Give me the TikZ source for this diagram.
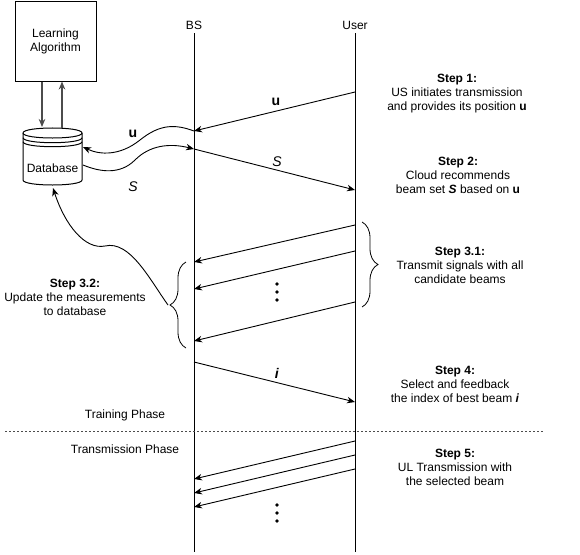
\documentclass[tikz,border=0pt]{standalone}
\usepackage{fontspec}
\setmainfont{Liberation Sans}
\usetikzlibrary{arrows.meta,decorations.pathreplacing}
\begin{document}
\begin{tikzpicture}[x=1pt,y=-1pt,
  txt/.style={font=\fontsize{12}{14}\selectfont, align=center, inner sep=0pt},
  lbl/.style={font=\fontsize{14}{16}\selectfont, inner sep=0pt},
  msg/.style={line width=0.9pt, -{Stealth[length=8pt,width=6.5pt,inset=2.5pt]}},
  life/.style={line width=1pt},
  brc/.style={line width=0.8pt, decorate, decoration={brace, amplitude=16pt}},
  dbline/.style={line width=1pt}
]
\useasboundingbox (0,0) rectangle (580,554);

% lifelines
\node[txt] (bs) at (194,25) {BS};
\node[txt] (us) at (355,25) {User};
\coordinate (bsT) at (194,33); \coordinate (bsB) at (194,552);
\coordinate (usT) at (355,33); \coordinate (usB) at (355,552);
\draw[life] (bsT) -- (bsB);
\draw[life] (usT) -- (usB);

% learning algorithm
\node[draw, line width=1pt, minimum width=81pt, minimum height=80pt, txt] (la) at (55.5,41) {Learning\\Algorithm};

% database
\draw[dbline, fill=white] (23,133) -- (23,180) .. controls (23,186.67) and (82,186.67) .. (82,180)
  -- (82,133) .. controls (82,126.33) and (23,126.33) .. (23,133) -- cycle;
\draw[dbline] (23,133) .. controls (23,139.67) and (82,139.67) .. (82,133);
\draw[dbline] (23,137.7) .. controls (23,144.37) and (82,144.37) .. (82,137.7);
\draw[dbline] (23,141.7) .. controls (23,148.37) and (82,148.37) .. (82,141.7);
\node[txt] (db) at (52.5,168) {Database};
\coordinate (dbIn) at (83,147);
\coordinate (dbOut) at (83,165);
\coordinate (dbBot) at (53,188);
\coordinate (dbTopL) at (42,127);
\coordinate (dbTopR) at (62,128);

\draw[msg, black!70, line width=1.2pt] ([xshift=-13.5pt]la.south) -- (dbTopL);
\draw[msg, black!70, line width=1.2pt] (dbTopR) -- ([xshift=6.5pt]la.south);

% step 1
\coordinate (m1s) at (355,92); \coordinate (m1e) at (194,131);
\draw[msg] (m1s) -- (m1e);
\node[lbl] (lu) at (276,102) {\textbf{u}};
\draw[msg] (m1e) .. controls (175,124) and (160,124) .. (140,140) .. controls (120,156) and (100,155) .. (dbIn);
\node[lbl] (lu2) at (133,134) {\textbf{u}};

% step 2
\coordinate (m2s) at (194,149); \coordinate (m2e) at (355,190);
\draw[msg] (dbOut) .. controls (100,172) and (120,175) .. (135,160) .. controls (150,145) and (170,143) .. (m2s);
\node[lbl] (ls2) at (133,187) {\textit{S}};
\draw[msg] (m2s) -- (m2e);
\node[lbl] (ls) at (277,162) {\textit{S}};

% step 3.1
\coordinate (a1s) at (355,225); \coordinate (a1e) at (194,262);
\coordinate (a2s) at (355,251); \coordinate (a2e) at (194,289);
\coordinate (a3s) at (355,302); \coordinate (a3e) at (194,341);
\draw[msg] (a1s) -- (a1e);
\draw[msg] (a2s) -- (a2e);
\draw[msg] (a3s) -- (a3e);
\fill (277,284) circle (1.8) (277,292) circle (1.8) (277,300) circle (1.8);

\coordinate (b1t) at (362,222); \coordinate (b1b) at (362,307);
\draw[brc] (b1t) -- (b1b);
\coordinate (b2t) at (186,262); \coordinate (b2b) at (186,348);
\draw[brc] (b2b) -- (b2t);
\coordinate (b2tip) at (168,305);
\draw[msg] (b2tip) .. controls (150,280) and (130,240) .. (105,246) .. controls (85,250) and (65,225) .. (dbBot);

% step 4
\coordinate (m4s) at (194,362); \coordinate (m4e) at (355,402);
\draw[msg] (m4s) -- (m4e);
\node[lbl] (li) at (277,373) {\textbf{\textit{i}}};

% phases
\coordinate (dl) at (5,431); \coordinate (dr) at (543,431);
\draw[black!70, line width=0.7pt, dash pattern=on 2pt off 2pt] (dl) -- (dr);
\node[txt] (tp) at (125,415) {Training Phase};
\node[txt] (trp) at (125,449) {Transmission Phase};

% step 5
\coordinate (c1s) at (355,441); \coordinate (c1e) at (194,479);
\coordinate (c2s) at (355,455); \coordinate (c2e) at (194,493);
\coordinate (c3s) at (355,469); \coordinate (c3e) at (194,507);
\draw[msg] (c1s) -- (c1e);
\draw[msg] (c2s) -- (c2e);
\draw[msg] (c3s) -- (c3e);
\fill (277,505) circle (1.8) (277,513) circle (1.8) (277,521) circle (1.8);

% step texts
\node[txt] (st1) at (457,94) {\textbf{Step 1:}\\US initiates transmission\\and provides its position \textbf{u}};
\node[txt] (st2) at (458,175) {\textbf{Step 2:}\\Cloud recommends\\beam set \textbf{\textit{S}} based on \textbf{u}};
\node[txt] (st31) at (460,265) {\textbf{Step 3.1:}\\Transmit signals with all\\candidate beams};
\node[txt] (st32) at (75,297) {\textbf{Step 3.2:}\\Update the measurements\\to database};
\node[txt] (st4) at (455,384) {\textbf{Step 4:}\\Select and feedback\\the index of best beam \textbf{\textit{i}}};
\node[txt] (st5) at (455,467) {\textbf{Step 5:}\\UL Transmission with\\the selected beam};
\end{tikzpicture}
\end{document}
